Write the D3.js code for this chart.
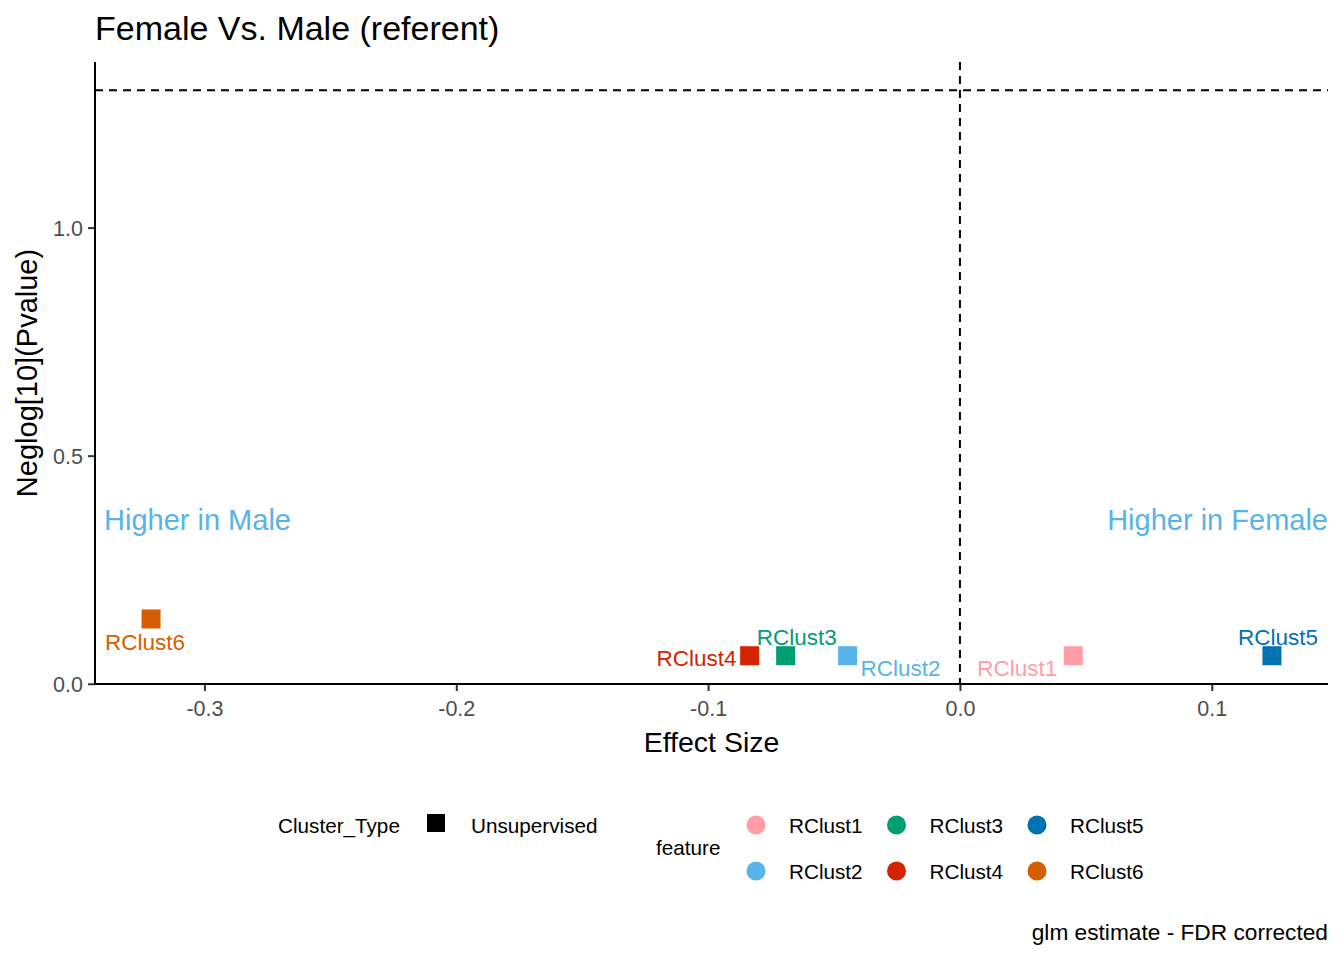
<!DOCTYPE html>
<html>
<head>
<meta charset="utf-8">
<script src="https://cdn.jsdelivr.net/npm/d3@7"></script>
<style>
  body { margin: 0; background: #fff; }
  svg text { font-family: "Liberation Sans", Arial, sans-serif; }
</style>
</head>
<body>
<svg id="chart"></svg>
<script>
// values
const features = ['RClust1', 'RClust2', 'RClust3', 'RClust4', 'RClust5', 'RClust6'];
const effectSize = [0.0450, -0.0446, -0.0692, -0.0835, 0.1239, -0.3212];
const neglogP = [0.0614, 0.0614, 0.0614, 0.0614, 0.0614, 0.142];
const featureColors = ['#FF9DA7', '#56B4E9', '#009E73', '#D42300', '#0072B2', '#D55E00'];
const xTicks = [-0.3, -0.2, -0.1, 0.0, 0.1];
const yTicks = [0.0, 0.5, 1.0];
const sigLine = -Math.log10(0.05);

// where ggrepel put the point labels (pixel nudges from each point)
const labelNudge = [
  {dx: -16, dy: 20, anchor: 'end'},
  {dx: 13, dy: 20, anchor: 'start'},
  {dx: 11, dy: -11, anchor: 'middle'},
  {dx: -13, dy: 10, anchor: 'end'},
  {dx: 6, dy: -11, anchor: 'middle'},
  {dx: -6, dy: 31, anchor: 'middle'}
];

const W = 1344, H = 960;
const margin = {top: 62, right: 16, bottom: 276, left: 95};
const width = W - margin.left - margin.right;
const height = H - margin.top - margin.bottom;

const svg = d3.select('#chart').attr('width', W).attr('height', H);
const chart = svg.append('g').attr('transform', `translate(${margin.left},${margin.top})`);

// ggplot style 5% expansion
function expand(lo, hi) {
  const r = hi - lo;
  return [lo - r * 0.05, hi + r * 0.05];
}
const xScale = d3.scaleLinear()
  .domain(expand(d3.min(effectSize), d3.max(effectSize)))
  .range([0, width]);
const yScale = d3.scaleLinear()
  .domain(expand(d3.min(neglogP), Math.max(d3.max(neglogP), sigLine)))
  .range([height, 0]);

const fmt = d => d3.format('.1f')(d).replace('\u2212', '-');
const xAxis = d3.axisBottom(xScale).tickValues(xTicks).tickFormat(fmt)
  .tickSizeOuter(0).tickSize(7).tickPadding(6);
const yAxis = d3.axisLeft(yScale).tickValues(yTicks).tickFormat(fmt)
  .tickSizeOuter(0).tickSize(7).tickPadding(5);

const xg = chart.append('g').attr('transform', `translate(0,${height})`).call(xAxis);
const yg = chart.append('g').call(yAxis);
[xg, yg].forEach(g => {
  g.select('.domain').remove();
  g.selectAll('.tick line').attr('stroke', '#333').attr('stroke-width', 2);
  g.selectAll('.tick text').attr('fill', '#4D4D4D').style('font-size', '21.5px')
    .style('font-family', '"Liberation Sans", Arial, sans-serif');
});
xg.selectAll('.tick text').attr('dy', '0.9em');
yg.selectAll('.tick text').attr('dy', '0.35em');

// axis lines
chart.append('line').attr('x1', 0).attr('x2', width).attr('y1', height).attr('y2', height)
  .attr('stroke', '#000').attr('stroke-width', 2);
chart.append('line').attr('x1', 0).attr('x2', 0).attr('y1', 0).attr('y2', height)
  .attr('stroke', '#000').attr('stroke-width', 2);

// reference lines
chart.append('line')
  .attr('x1', 0).attr('x2', width)
  .attr('y1', yScale(sigLine)).attr('y2', yScale(sigLine))
  .attr('stroke', '#000').attr('stroke-width', 2).attr('stroke-dasharray', '8,6');
chart.append('line')
  .attr('x1', xScale(0)).attr('x2', xScale(0))
  .attr('y1', 0).attr('y2', height)
  .attr('stroke', '#000').attr('stroke-width', 2).attr('stroke-dasharray', '8,6');

// region annotations
chart.append('text').attr('x', 9).attr('y', 468)
  .attr('fill', '#56B4E9').style('font-size', '29px').text('Higher in Male');
chart.append('text').attr('x', width).attr('y', 468)
  .attr('text-anchor', 'end')
  .attr('fill', '#56B4E9').style('font-size', '29px').text('Higher in Female');

// points
const pts = features.map((f, i) => ({f, x: effectSize[i], y: neglogP[i], c: featureColors[i], n: labelNudge[i]}));
const sq = 19;
chart.selectAll('rect.pt').data(pts).enter().append('rect')
  .attr('class', 'pt')
  .attr('x', d => xScale(d.x) - sq / 2)
  .attr('y', d => yScale(d.y) - sq / 2)
  .attr('width', sq).attr('height', sq)
  .attr('fill', d => d.c);

chart.selectAll('text.lbl').data(pts).enter().append('text')
  .attr('class', 'lbl')
  .attr('x', d => xScale(d.x) + d.n.dx)
  .attr('y', d => yScale(d.y) + d.n.dy)
  .attr('text-anchor', d => d.n.anchor)
  .attr('fill', d => d.c)
  .style('font-size', '22.5px')
  .text(d => d.f);

// titles
svg.append('text').attr('x', 95).attr('y', 40).style('font-size', '34px').text('Female Vs. Male (referent)');
svg.append('text').attr('x', margin.left + width / 2).attr('y', 752)
  .attr('text-anchor', 'middle').style('font-size', '28.5px').text('Effect Size');
svg.append('text').attr('transform', `translate(37,${margin.top + height / 2}) rotate(-90)`)
  .attr('text-anchor', 'middle').style('font-size', '29px').text('Neglog[10](Pvalue)');
svg.append('text').attr('x', W - 16).attr('y', 940)
  .attr('text-anchor', 'end').style('font-size', '22.7px').text('glm estimate - FDR corrected');

// legends
const leg = svg.append('g').style('font-size', '20.7px');
leg.append('text').attr('x', 278).attr('y', 833).text('Cluster_Type');
leg.append('rect').attr('x', 427).attr('y', 814).attr('width', 18).attr('height', 18).attr('fill', '#000');
leg.append('text').attr('x', 471).attr('y', 833).text('Unsupervised');

leg.append('text').attr('x', 656).attr('y', 855).text('feature');
const legX = d3.scalePoint().domain([0, 1, 2]).range([756, 1037]);
const legY = d3.scalePoint().domain([0, 1]).range([825, 871]);
const legItems = leg.selectAll('g.item').data(pts).enter().append('g')
  .attr('class', 'item')
  .attr('transform', (d, i) => `translate(${legX(Math.floor(i / 2))},${legY(i % 2)})`);
legItems.append('circle').attr('r', 9.5).attr('fill', d => d.c);
legItems.append('text').attr('x', 33).attr('y', 8).text(d => d.f);
</script>
</body>
</html>
